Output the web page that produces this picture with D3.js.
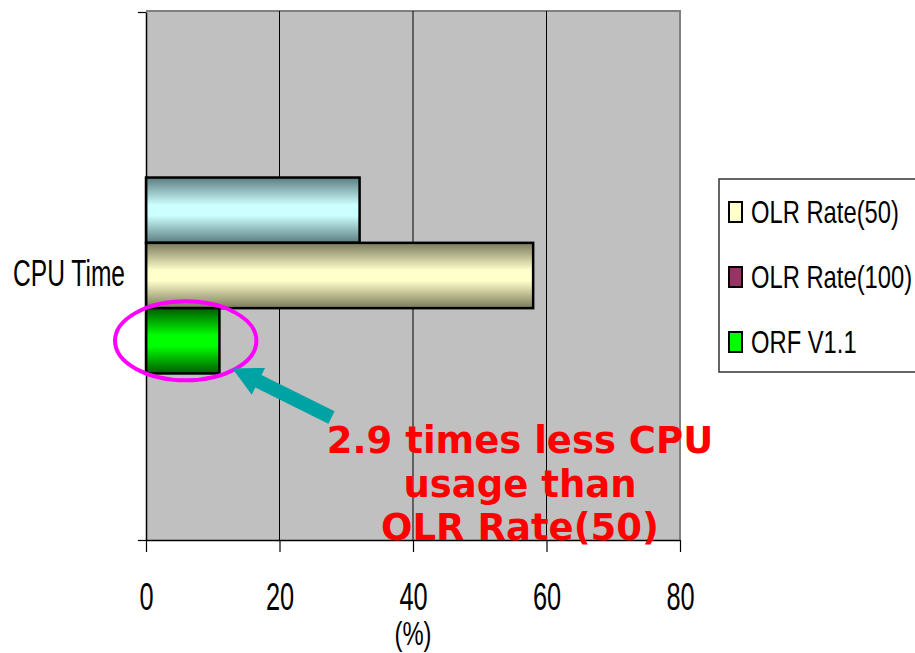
<!DOCTYPE html>
<html>
<head>
<meta charset="utf-8">
<script src="https://cdn.jsdelivr.net/npm/d3@7/dist/d3.min.js"></script>
<style>
  html, body { margin: 0; padding: 0; background: #ffffff; }
  svg { display: block; }
</style>
</head>
<body>
<svg id="chart" width="915" height="653"></svg>
<script>
// ---- data ----
const categories = ["CPU Time"];
const barSeries = ["OLR Rate(100)", "OLR Rate(50)", "ORF V1.1"];   // bars, top to bottom
const barValues = [32, 58, 11];                                   // CPU time (%)
const legendSeries = ["OLR Rate(50)", "OLR Rate(100)", "ORF V1.1"];
const xTicks = [0, 20, 40, 60, 80];
const xTitle = "(%)";
const noteLines = ["2.9 times less CPU", "usage than", "OLR Rate(50)"];

// ---- styles ----
const barStyle = [
  { id: "g-cyan",   edge: "#5c7c80", mid: "#ccffff" },
  { id: "g-yellow", edge: "#7a7a5a", mid: "#ffffcc" },
  { id: "g-green",  edge: "#005a00", mid: "#00ff00" }
];
const legendFill = ["#ffffcc", "#993366", "#00ff00"];
const labelFont = "'Liberation Sans Narrow', 'Liberation Sans', Arial, sans-serif";

const svg = d3.select("#chart");
const plot = { left: 146, right: 680, top: 11, bottom: 540 };

// Labels use a condensed face: squeeze horizontally to a narrow width
function measure(family) {
  const t = svg.append("text").attr("font-family", family).attr("font-size", 30).text("OLR Rate(50)");
  const w = t.node().getComputedTextLength();
  t.remove();
  return w;
}
const squeeze = Math.min(1, 148 / measure(labelFont));
const stretch = 1.2;   // axis labels are drawn taller than wide

// ---- scales ----
const x = d3.scaleLinear().domain([0, 80]).range([plot.left, plot.right]);
const y = d3.scaleBand().domain(categories).range([plot.top, plot.bottom])
  .paddingInner(0).paddingOuter(0.85);
const ySub = d3.scaleBand().domain(barSeries).range([0, y.bandwidth()]);

// ---- gradients ----
const defs = svg.append("defs");
barStyle.forEach(s => {
  const g = defs.append("linearGradient").attr("id", s.id)
    .attr("x1", 0).attr("y1", 0).attr("x2", 0).attr("y2", 1);
  g.append("stop").attr("offset", "0%").attr("stop-color", s.edge);
  g.append("stop").attr("offset", "42%").attr("stop-color", s.mid);
  g.append("stop").attr("offset", "58%").attr("stop-color", s.mid);
  g.append("stop").attr("offset", "100%").attr("stop-color", s.edge);
});

// ---- plot area ----
svg.append("rect")
  .attr("x", plot.left).attr("y", plot.top)
  .attr("width", plot.right - plot.left).attr("height", plot.bottom - plot.top)
  .attr("fill", "#c0c0c0");

// top and right frame
svg.append("path")
  .attr("d", `M${plot.left},${plot.top}H${plot.right}V${plot.bottom}`)
  .attr("fill", "none").attr("stroke", "#808080").attr("stroke-width", 2);

// vertical gridlines
svg.append("g").selectAll("line")
  .data(xTicks.filter(v => v > 0 && v < 80))
  .join("line")
  .attr("x1", d => x(d)).attr("x2", d => x(d))
  .attr("y1", plot.top).attr("y2", plot.bottom)
  .attr("stroke", "#000").attr("stroke-width", 1);

// ---- bars ----
const cat = categories[0];
svg.append("g").selectAll("rect")
  .data(barSeries.map((s, i) => ({ s, v: barValues[i], i })))
  .join("rect")
  .attr("x", x(0))
  .attr("y", d => y(cat) + ySub(d.s))
  .attr("width", d => x(d.v) - x(0))
  .attr("height", ySub.bandwidth())
  .attr("fill", d => `url(#${barStyle[d.i].id})`)
  .attr("stroke", "#000").attr("stroke-width", 2.5);

// ---- x axis ----
const xAxis = d3.axisBottom(x).tickValues(xTicks).tickFormat(d3.format("d"))
  .tickSize(12).tickSizeOuter(0);
const gx = svg.append("g").attr("transform", `translate(0,${plot.bottom})`).call(xAxis);
gx.select(".domain").attr("stroke", "#000").attr("stroke-width", 1.5);
gx.selectAll(".tick line").attr("stroke", "#000").attr("stroke-width", 1.2);
gx.selectAll(".tick text")
  .attr("y", 0).attr("dy", 0)
  .attr("transform", `translate(0,70) scale(${squeeze},${stretch})`)
  .attr("font-family", labelFont).attr("font-size", 32).attr("fill", "#000");

svg.append("text")
  .attr("transform", `translate(${(plot.left + plot.right) / 2},645) scale(${squeeze},1.1)`)
  .attr("text-anchor", "middle")
  .attr("font-family", labelFont).attr("font-size", 30).attr("fill", "#000")
  .text(xTitle);

// ---- y axis ----
const yEdge = d3.scaleLinear().domain([0, 1]).range([plot.bottom, plot.top + 1]);
const gyEdge = svg.append("g").attr("transform", `translate(${plot.left},0)`)
  .call(d3.axisLeft(yEdge).tickValues([0, 1]).tickFormat("").tickSize(8).tickSizeOuter(0));
gyEdge.select(".domain").attr("stroke", "#000").attr("stroke-width", 1.5);
gyEdge.selectAll(".tick line").attr("stroke", "#000").attr("stroke-width", 1.2);

const gy = svg.append("g").attr("transform", `translate(${plot.left},0)`)
  .call(d3.axisLeft(y).tickSize(0).tickPadding(0));
gy.select(".domain").remove();
gy.selectAll(".tick text")
  .attr("x", 0).attr("y", 0).attr("dy", 0)
  .attr("transform", `translate(-21,10) scale(${squeeze},${stretch})`)
  .attr("text-anchor", "end")
  .attr("font-family", labelFont).attr("font-size", 31).attr("fill", "#000");

// ---- legend ----
const legend = svg.append("g");
legend.append("rect")
  .attr("x", 719).attr("y", 179).attr("width", 220).attr("height", 193)
  .attr("fill", "#fff").attr("stroke", "#333").attr("stroke-width", 1.5);
const items = legend.selectAll("g.item")
  .data(legendSeries)
  .join("g").attr("class", "item")
  .attr("transform", (d, i) => `translate(729,${202 + i * 65})`);
items.append("rect")
  .attr("width", 13).attr("height", 20)
  .attr("fill", (d, i) => legendFill[i])
  .attr("stroke", "#000").attr("stroke-width", 2);
items.append("text")
  .attr("transform", `translate(22,21) scale(${squeeze},1.05)`)
  .attr("font-family", labelFont).attr("font-size", 30).attr("fill", "#000")
  .text(d => d);

// ---- callout on the smallest bar ----
const iMin = barValues.indexOf(d3.min(barValues));
const bx0 = x(0), bx1 = x(barValues[iMin]);
const byTop = y(cat) + ySub(barSeries[iMin]);
const byMid = byTop + ySub.bandwidth() / 2;

svg.append("ellipse")
  .attr("cx", (bx0 + bx1) / 2 + 3).attr("cy", byMid)
  .attr("rx", (bx1 - bx0) / 2 + 34).attr("ry", 39.5)
  .attr("fill", "none").attr("stroke", "#ff00ff").attr("stroke-width", 4);

// arrow from the note towards the bar end
const tip = [bx1 + 13, byTop + ySub.bandwidth() - 5];
const tail = [331.5, 417.5];
const dx = tip[0] - tail[0], dy = tip[1] - tail[1];
const len = Math.hypot(dx, dy);
const ux = dx / len, uy = dy / len, nx = -uy, ny = ux;
const headLen = 29, headHalf = 15, shaftHalf = 7;
const base = [tip[0] - ux * headLen, tip[1] - uy * headLen];
const pt = (p, k) => [p[0] + nx * k, p[1] + ny * k];
const arrowPts = [
  tip, pt(base, headHalf), pt(base, shaftHalf), pt(tail, shaftHalf),
  pt(tail, -shaftHalf), pt(base, -shaftHalf), pt(base, -headHalf)
];
svg.append("polygon")
  .attr("points", arrowPts.map(p => p.join(",")).join(" "))
  .attr("fill", "#00a3a3");

// note text
svg.append("g").selectAll("text")
  .data(noteLines)
  .join("text")
  .attr("x", 520).attr("y", (d, i) => 453 + i * 43.5)
  .attr("text-anchor", "middle")
  .attr("font-family", "Verdana, 'DejaVu Sans', sans-serif")
  .attr("font-weight", "bold").attr("font-size", 37)
  .attr("fill", "#ff0000")
  .text(d => d);
</script>
</body>
</html>
